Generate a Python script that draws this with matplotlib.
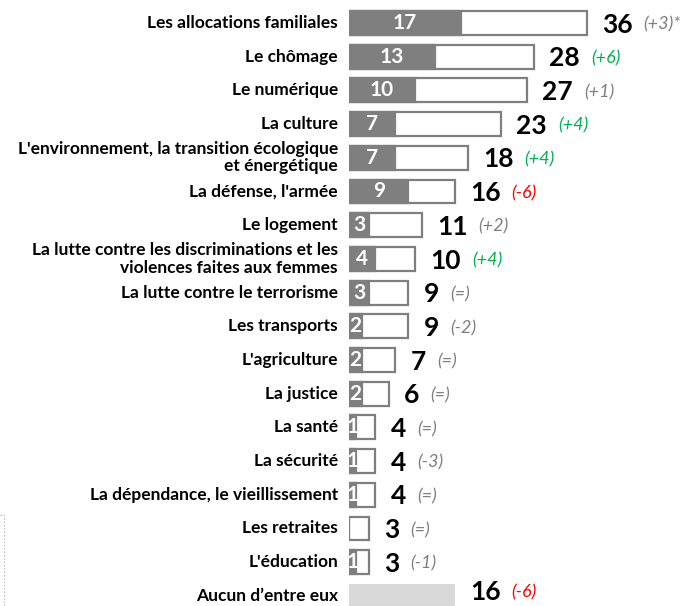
import matplotlib
matplotlib.use('Agg')
import matplotlib.pyplot as plt
from matplotlib.lines import Line2D

# Données
categories = [
    "Les allocations familiales",
    "Le chômage",
    "Le numérique",
    "La culture",
    "L'environnement, la transition écologique\net énergétique",
    "La défense, l'armée",
    "Le logement",
    "La lutte contre les discriminations et les\nviolences faites aux femmes",
    "La lutte contre le terrorisme",
    "Les transports",
    "L'agriculture",
    "La justice",
    "La santé",
    "La sécurité",
    "La dépendance, le vieillissement",
    "Les retraites",
    "L'éducation",
    "Aucun d’entre eux",
]
premier = [17, 13, 10, 7, 7, 9, 3, 4, 3, 2, 2, 2, 1, 1, 1, 0, 1]
total = [36, 28, 27, 23, 18, 16, 11, 10, 9, 9, 7, 6, 4, 4, 4, 3, 3]
aucun = 16
evolution = ["(+3)*", "(+6)", "(+1)", "(+4)", "(+4)", "(-6)", "(+2)", "(+4)", "(=)",
             "(-2)", "(=)", "(=)", "(=)", "(-3)", "(=)", "(=)", "(-1)", "(-6)"]
couleur_evol = ["#7f7f7f", "#00b050", "#7f7f7f", "#00b050", "#00b050", "#ff0000",
                "#7f7f7f", "#00b050", "#7f7f7f", "#7f7f7f", "#7f7f7f", "#7f7f7f",
                "#7f7f7f", "#7f7f7f", "#7f7f7f", "#7f7f7f", "#7f7f7f", "#ff0000"]

plt.rcParams['font.family'] = ['Lato', 'DejaVu Sans']

fig = plt.figure(figsize=(6.81, 6.06), dpi=100)
ax = fig.add_axes([349 / 681, 0, 1 - 349 / 681, 1])
ax.set_xlim(0, 332 / 6.6)
ax.set_ylim(17.30, -0.682)
ax.axis('off')

gris = "#7f7f7f"
h = 0.71
y = list(range(len(total)))

# Barres totales (contour) puis la partie "en premier"
ax.barh(y, total, height=h, left=0, color='white', edgecolor=gris, linewidth=1.6)
ax.barh(y, premier, height=h, left=0, color=gris, edgecolor=gris, linewidth=1.6)
ax.barh([len(total)], [aucun], height=h, color='#d9d9d9', edgecolor='none')

valeurs = total + [aucun]
for i, (cat, val) in enumerate(zip(categories, valeurs)):
    ax.annotate(cat, xy=(0, i), xytext=(-8, 0), textcoords='offset points',
                ha='right', va='center', fontsize=12.5, fontweight='bold',
                multialignment='right', linespacing=1.1, annotation_clip=False)
    dy = 2.5 if i == len(total) else -1.2
    t = ax.annotate(str(val), xy=(val, i), xytext=(11, dy), textcoords='offset points',
                    ha='left', va='center', fontsize=19, fontweight='bold', color='black',
                    annotation_clip=False)
    ax.annotate(evolution[i], xy=(1, 0.5), xycoords=t, xytext=(8, 0),
                textcoords='offset points', ha='left', va='center', fontsize=13,
                fontstyle='italic', color=couleur_evol[i], annotation_clip=False)

for i, p in enumerate(premier):
    if p > 0:
        ax.text(p / 2, i, str(p), ha='center', va='center', fontsize=15,
                fontweight='bold', color='white', clip_on=False)

# petit cadre pointillé en bas à gauche
fig.add_artist(Line2D([0, 4 / 681, 4 / 681], [1 - 515 / 606, 1 - 515 / 606, 0],
                      transform=fig.transFigure, color='#bfbfbf', linewidth=0.8,
                      linestyle=(0, (1.5, 1.5))))

fig.savefig('out.png', dpi=100)
